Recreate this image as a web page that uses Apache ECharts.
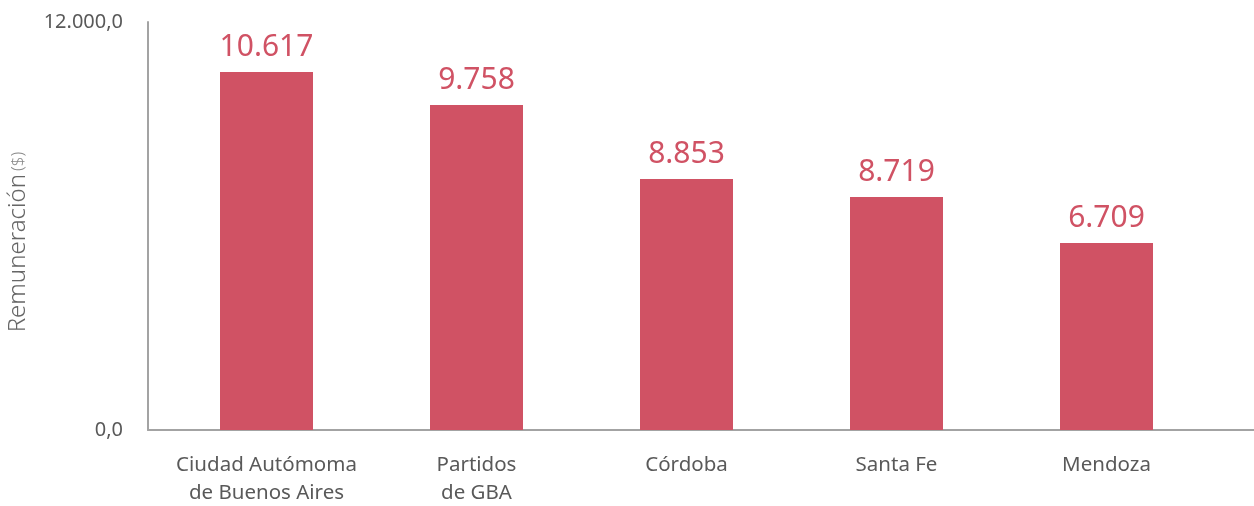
<!DOCTYPE html>
<html>
<head>
<meta charset="utf-8">
<script src="https://cdn.jsdelivr.net/npm/echarts@6/dist/echarts.min.js"></script>
<style>
  html, body { margin: 0; padding: 0; background: #fff; }
  #chart { width: 1254px; height: 506px; }
</style>
</head>
<body>
<div id="chart"></div>
<script>
// categorias (provincias / regiones)
const categorias = ['Ciudad Autómoma\nde Buenos Aires', 'Partidos\nde GBA', 'Córdoba', 'Santa Fe', 'Mendoza']
// valores rotulados sobre cada barra
const remuneracion = [10617, 9758, 8853, 8719, 6709]
// alto de cada barra, en unidades del eje
const alturaBarra = [10530, 9560, 7380, 6850, 5500]
// eje y
const ejeMin = 0
const ejeMax = 12000

const rojo = '#d05264'
const gris = '#595959'
const font = 'Noto Sans'

// 12000 -> "12.000", con decimales opcionales
function miles(v, dec) {
  const entero = Math.round(Math.floor(v)).toString().replace(/\B(?=(\d{3})+(?!\d))/g, '.')
  return dec ? entero + ',' + '0'.repeat(dec) : entero
}

const chart = echarts.init(document.getElementById('chart'))

chart.setOption({
  animation: false,
  textStyle: { fontFamily: font },
  grid: [
    // barras
    { left: 161.5, width: 1050, top: 22, height: 408, outerBoundsMode: 'none', containLabel: false },
    // ejes dibujados
    { left: 148, right: 0, top: 22, height: 408, outerBoundsMode: 'none', containLabel: false }
  ],
  xAxis: [
    {
      gridIndex: 0,
      type: 'category',
      data: categorias,
      axisLine: { show: false },
      axisTick: { show: false },
      axisLabel: {
        interval: 0,
        color: gris,
        fontSize: 20.5,
        lineHeight: 28,
        margin: 21,
        fontFamily: font
      }
    },
    {
      gridIndex: 1,
      type: 'value',
      min: 0,
      max: 1,
      axisLine: { show: true, lineStyle: { color: '#a3a3a3', width: 2 } },
      axisTick: { show: false },
      axisLabel: { show: false },
      splitLine: { show: false }
    }
  ],
  yAxis: [
    {
      gridIndex: 0,
      type: 'value',
      min: ejeMin,
      max: ejeMax,
      show: false
    },
    {
      gridIndex: 1,
      type: 'value',
      min: ejeMin,
      max: ejeMax,
      interval: ejeMax,
      axisLine: { show: true, lineStyle: { color: '#a3a3a3', width: 2 } },
      axisTick: { show: false },
      splitLine: { show: false },
      axisLabel: {
        color: gris,
        fontSize: 20,
        margin: 25,
        fontFamily: font,
        formatter: v => miles(v, 1)
      },
      name: '{a|Remuneración} {b|($)}',
      nameLocation: 'middle',
      nameGap: 118,
      nameTextStyle: {
        padding: [0, 32, 0, 0],
        rich: {
          a: { color: '#666', fontSize: 24, fontFamily: font, fontWeight: 300 },
          b: { color: '#888', fontSize: 17, fontFamily: font, fontWeight: 300 }
        }
      }
    }
  ],
  series: [
    {
      type: 'bar',
      xAxisIndex: 0,
      yAxisIndex: 0,
      data: alturaBarra,
      barWidth: 93,
      itemStyle: { color: rojo },
      label: {
        show: true,
        position: 'top',
        distance: 10,
        color: rojo,
        fontSize: 30,
        fontFamily: font,
        formatter: p => miles(remuneracion[p.dataIndex], 0)
      }
    }
  ]
})
</script>
</body>
</html>
